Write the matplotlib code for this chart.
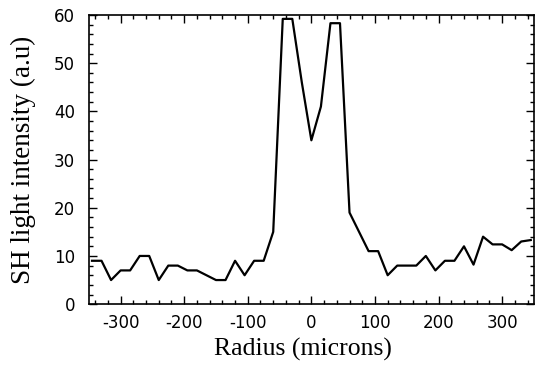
import numpy as np
import matplotlib.pyplot as plt
from matplotlib.ticker import MultipleLocator

plt.rcParams['axes.unicode_minus'] = False

# radius positions (microns) and SH intensity
radius = [-345, -330, -315, -300, -285, -270, -255, -240, -225, -210,
          -195, -180, -165, -150, -135, -120, -105, -90, -75, -60,
          -45, -30, -15, 0, 15, 30, 45, 60, 75, 90,
          105, 120, 135, 150, 165, 180, 195, 210, 225, 240,
          255, 270, 285, 300, 315, 330, 345]
intensity = [9, 9, 5, 7, 7, 10, 10, 5, 8, 8,
             7, 7, 6, 5, 5, 9, 6, 9, 9, 15,
             59.2, 59.2, 46, 34, 41, 58.3, 58.3, 19, 15, 11,
             11, 6, 8, 8, 8, 10, 7, 9, 9, 12,
             8.2, 14, 12.4, 12.4, 11.2, 13, 13.3]

xticks = [-300, -200, -100, 0, 100, 200, 300]
yticks = [0, 10, 20, 30, 40, 50, 60]

fig = plt.figure(figsize=(5.35, 3.66), dpi=100)
ax = fig.add_axes([0.166, 0.169, 0.832, 0.790])

ax.plot(radius, intensity, color='black', linewidth=1.6)

ax.set_xlim(-350, 350)
ax.set_ylim(0, 60)
ax.set_xticks(xticks)
ax.set_yticks(yticks)
ax.xaxis.set_minor_locator(MultipleLocator(20))
ax.yaxis.set_minor_locator(MultipleLocator(2))
ax.tick_params(which='both', direction='in', top=True, right=True,
               labelsize=12, width=1)
ax.tick_params(which='major', length=6)
ax.tick_params(which='minor', length=3)
ax.tick_params(axis='x', which='major', pad=7)
ax.tick_params(axis='y', which='major', pad=10)
for s in ax.spines.values():
    s.set_linewidth(1.2)

ax.set_xlabel('Radius (microns)', family='Liberation Serif', fontsize=18.5, labelpad=4)
ax.xaxis.label.set_x(0.48)
ax.set_ylabel('SH light intensity (a.u)', family='Liberation Serif', fontsize=19.5, labelpad=13)

plt.savefig('out.png', dpi=100)
